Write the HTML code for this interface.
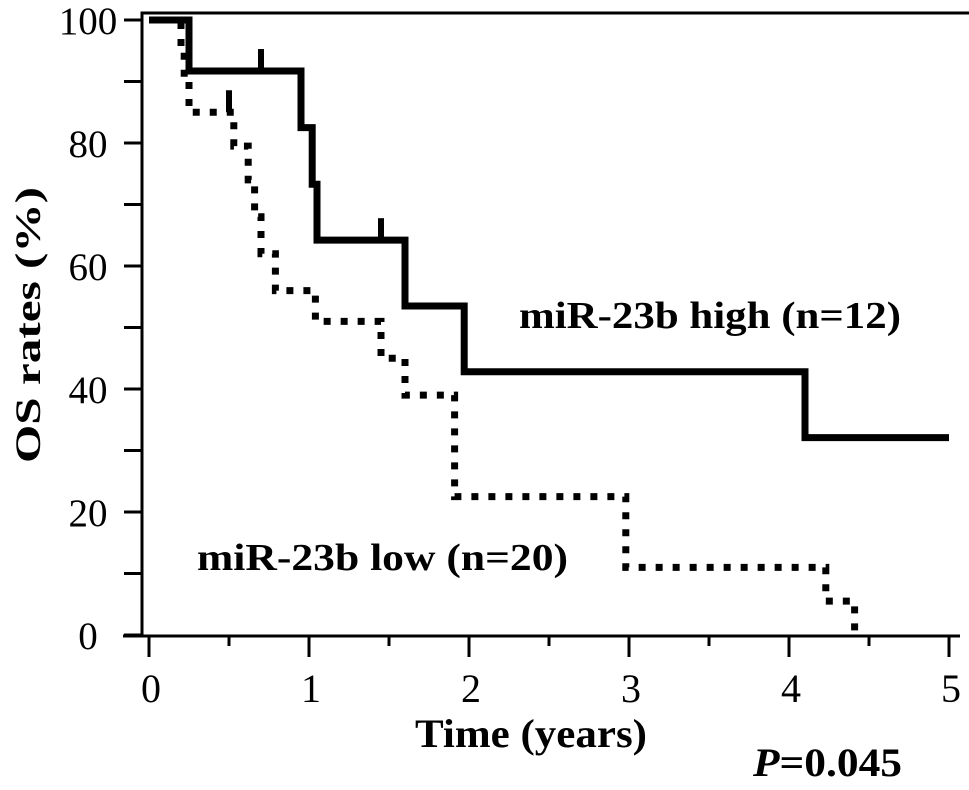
<!DOCTYPE html>
<html><head><meta charset="utf-8"><style>
body{margin:0;background:#fff}
svg{display:block;font-family:"Liberation Serif",serif}
</style></head><body>
<svg width="969" height="790">
<g id="plot"></g>
<text x="40" y="325" transform="rotate(-90 40 325)" text-anchor="middle" font-size="36" font-weight="bold" textLength="276" lengthAdjust="spacingAndGlyphs">OS rates (%)</text>
<text x="415" y="747" font-size="40" font-weight="bold" textLength="232" lengthAdjust="spacingAndGlyphs">Time (years)</text>
<text x="519" y="328" font-size="38" font-weight="bold" textLength="382" lengthAdjust="spacingAndGlyphs">miR-23b high (n=12)</text>
<text x="197" y="570" font-size="38" font-weight="bold" textLength="371" lengthAdjust="spacingAndGlyphs">miR-23b low (n=20)</text>
<text x="753" y="776" font-size="40" font-weight="bold" textLength="149" lengthAdjust="spacingAndGlyphs"><tspan font-style="italic">P</tspan>=0.045</text>
</svg>
<script>
const xTicks=[0,1,2,3,4,5];
const yTicks=[0,20,40,60,80,100];
const highT=[0,0.25,0.95,1.02,1.05,1.6,1.97,4.1,5];
const highS=[100,91.7,82.5,73.3,64.2,53.5,42.8,32.1,32.1];
const highCensor=[0.7,1.45];
const lowT=[0,0.2,0.22,0.25,0.53,0.62,0.66,0.7,0.79,1.04,1.45,1.6,1.91,2.98,4.23,4.41];
const lowS=[100,95,90,85,79.5,74,68,62,56,51,45,39,22.5,11,5.5,0];
const lowCensor=[0.5];
const NS='http://www.w3.org/2000/svg';
const X0=149,XS=160,Y0=635,YS=6.15;
const xs=t=>X0+t*XS, ys=v=>Y0-v*YS;
const g=document.getElementById('plot');
function mk(tag,attrs){const e=document.createElementNS(NS,tag);for(const k in attrs)e.setAttribute(k,attrs[k]);g.appendChild(e);return e;}
let f=mk('path',{d:`M142,635 V13 H969 M123,636 H960`,stroke:'#000','stroke-width':3,fill:'none'});


for(let i=0;i<=10;i++){const t=i/2;const l=mk('line',{x1:xs(t),x2:xs(t),y1:636,y2:i%2?646:657,stroke:'#000','stroke-width':3});

}
for(let i=0;i<=10;i++){const v=i*10;const l=mk('line',{x1:142,x2:124,y1:ys(v),y2:ys(v),stroke:'#000','stroke-width':3});

}
xTicks.forEach(t=>{const e=mk('text',{x:xs(t)+2,y:702,'text-anchor':'middle','font-size':40});e.textContent=t;

});
yTicks.forEach(v=>{const e=mk('text',{x:88,y:ys(v)+14,'text-anchor':'middle','font-size':39});e.textContent=v;

});
function stepPath(T,S){let d=`M${xs(T[0])},${ys(S[0])}`;for(let i=1;i<T.length;i++){d+=` H${xs(T[i])} V${ys(S[i])}`;}return d;}
function survAt(T,S,t){let s=S[0];for(let i=0;i<T.length;i++)if(T[i]<=t)s=S[i];return s;}
const hp=mk('path',{d:stepPath(highT,highS),stroke:'#000','stroke-width':7,fill:'none'});


const lp=mk('path',{d:stepPath(lowT,lowS),stroke:'#000','stroke-width':7,fill:'none','stroke-dasharray':'7 10'});


highCensor.forEach(t=>{const y=ys(survAt(highT,highS,t));const c=mk('line',{x1:xs(t),x2:xs(t),y1:y,y2:y-22,stroke:'#000','stroke-width':6});

});
lowCensor.forEach(t=>{const y=ys(survAt(lowT,lowS,t));const c=mk('line',{x1:xs(t),x2:xs(t),y1:y,y2:y-22,stroke:'#000','stroke-width':6});

});
</script>
</body></html>
